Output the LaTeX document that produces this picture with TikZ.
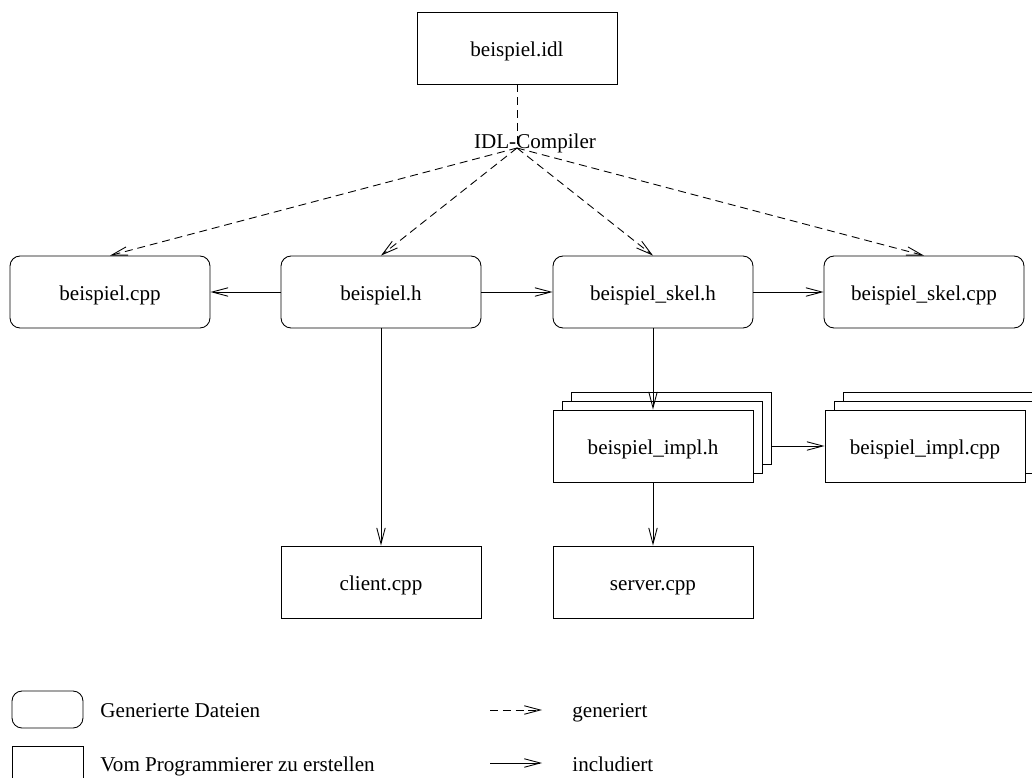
\documentclass[tikz,border=0pt]{standalone}
\usepackage{fontspec}
\setmainfont{Liberation Serif}
\usepackage{tikz}
\usetikzlibrary{
    arrows.meta,
    calc,
    positioning
}

\begin{document}
\begin{tikzpicture}[x=0.02cm, y=-0.02cm, line width=0.5pt,
    font=\fontsize{12}{14}\selectfont,
    gen/.style={draw, rounded corners=0.2cm, minimum width=4cm, minimum height=1.44cm,
        text height=11.4pt, text depth=1.4pt},
    hand/.style={draw, fill=white, minimum width=4cm, minimum height=1.44cm,
        text height=11.4pt, text depth=1.4pt},
    incl/.style={-{Straight Barb[length=3.2mm, width=1.7mm]}},
    gener/.style={incl, dash pattern=on 4.5pt off 2.8pt}]
                                \useasboundingbox (0, 0) rectangle (1032, 778);
                                \node[hand] (idl) at (517, 48) {beispiel.idl};
                                \coordinate (hub) at (517, 148);
                                \node[anchor=base] (comp) at (535, 148) {IDL-Compiler};
                                \node[gen] (cpp) at (110, 292) {beispiel.cpp};
                                \node[gen] (h) at (381, 292) {beispiel.h};
                                \node[gen] (skelh) at (653, 292) {beispiel\_skel.h};
                                \node[gen] (skelcpp) at (924, 292) {beispiel\_skel.cpp};
                                \node[hand] (implhb2) at (671, 428) {};
                                \node[hand] (implhb1) at (662, 437) {};
                                \node[hand] (implh) at (653, 446) {beispiel\_impl.h};
                                \node[hand] (implcppb2) at (943, 428) {};
                                \node[hand] (implcppb1) at (934, 437) {};
                                \node[hand] (implcpp) at (925, 446) {beispiel\_impl.cpp};
                                \node[hand] (client) at (381, 582) {client.cpp};
                                \node[hand] (server) at (653, 582) {server.cpp};
                                \draw[dash pattern=on 4.5pt off 2.8pt] (idl) -- (hub);
                                \draw[gener] (hub) -- (cpp.north);
                                \draw[gener] (hub) -- (h.north);
                                \draw[gener] (hub) -- (skelh.north);
                                \draw[gener] (hub) -- (skelcpp.north);
                                \draw[incl] (h) -- (cpp);
                                \draw[incl] (h) -- (skelh);
                                \draw[incl] (skelh) -- (skelcpp);
                                \draw[incl] (h) -- (client);
                                \draw[incl] (skelh) -- (implh);
                                \draw[incl] (implhb2.east |- implh.east) -- (implcpp);
                                \draw[incl] (implh) -- (server);
                                \node[gen, minimum width=1.42cm, minimum height=0.74cm] (lgen) at (47.5, 709.5) {};
                                \node[draw, minimum width=1.42cm, minimum height=0.74cm] (lhand) at (47.5, 764.5) {};
                                \node[anchor=base west, inner sep=0pt] (tgen) at (100, 717) {Generierte Dateien};
                                \node[anchor=base west, inner sep=0pt] (thand) at (100, 771) {Vom Programmierer zu erstellen};
                                \coordinate (ga) at (490, 710);
                                \coordinate (gb) at (542, 710);
                                \coordinate (ia) at (490, 763);
                                \coordinate (ib) at (542, 763);
                                \draw[gener] (ga) -- (gb);
                                \draw[incl] (ia) -- (ib);
                                \node[anchor=base west, inner sep=0pt] (tgener) at (572, 717) {generiert};
                                \node[anchor=base west, inner sep=0pt] (tincl) at (572, 771) {includiert};
                            \end{tikzpicture}
\end{document}
